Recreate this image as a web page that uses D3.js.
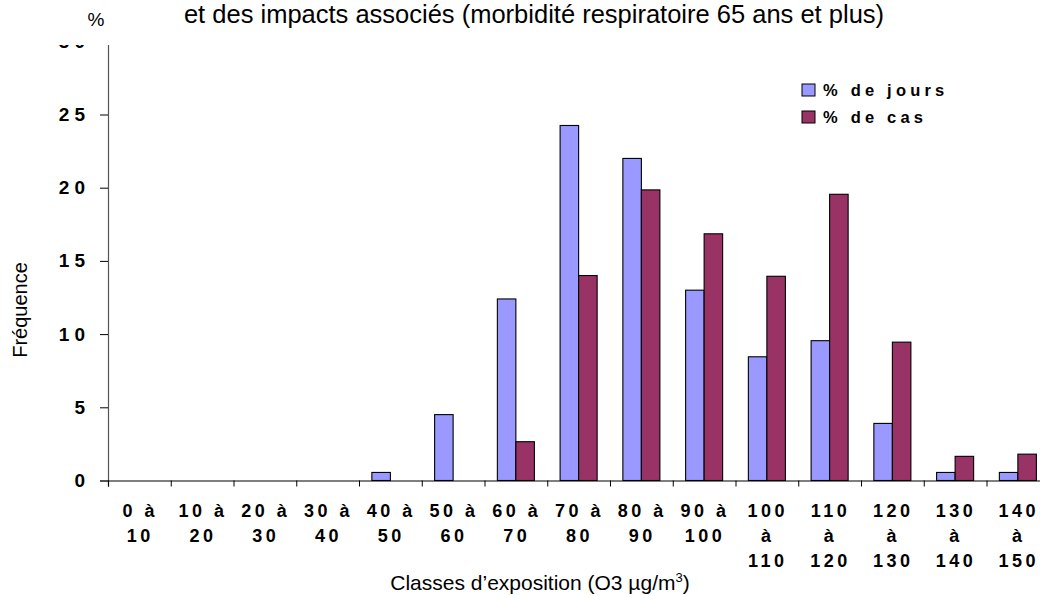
<!DOCTYPE html>
<html>
<head>
<meta charset="utf-8">
<script src="https://cdn.jsdelivr.net/npm/d3@7"></script>
<style>
  body { margin: 0; background: #fff; }
  svg { display: block; }
  text { font-family: "Liberation Sans", Arial, sans-serif; fill: #000; }
</style>
</head>
<body>
<svg id="chart" width="1040" height="595"></svg>
<script>
// Exposure classes (O3, µg/m3) and the two distributions in %
const categories = ["0 à 10", "10 à 20", "20 à 30", "30 à 40", "40 à 50", "50 à 60", "60 à 70",
  "70 à 80", "80 à 90", "90 à 100", "100 à 110", "110 à 120", "120 à 130", "130 à 140", "140 à 150"];
const categoryLines = [["0 à", "10"], ["10 à", "20"], ["20 à", "30"], ["30 à", "40"], ["40 à", "50"],
  ["50 à", "60"], ["60 à", "70"], ["70 à", "80"], ["80 à", "90"], ["90 à", "100"],
  ["100", "à", "110"], ["110", "à", "120"], ["120", "à", "130"], ["130", "à", "140"], ["140", "à", "150"]];
const pctJours = [0, 0, 0, 0, 0.55, 4.5, 12.4, 24.25, 22.0, 13.0, 8.45, 9.55, 3.9, 0.55, 0.55];
const pctCas   = [0, 0, 0, 0, 0, 0, 2.65, 14.0, 19.85, 16.85, 13.95, 19.55, 9.45, 1.65, 1.8];
const seriesNames = ["% de jours", "% de cas"];
const seriesColors = ["#9999FF", "#993366"];
const yTicks = [0, 5, 10, 15, 20, 25, 30];

const svg = d3.select("#chart");
const plotLeft = 108, plotRight = 1049.25, plotTop = 41.3, plotBottom = 480.5;

const x0 = d3.scaleBand().domain(categories).range([plotLeft, plotRight])
  .paddingInner(0.41).paddingOuter(0.205);
const x1 = d3.scaleBand().domain(seriesNames).range([0, x0.bandwidth()]);
const xEdges = d3.scaleLinear().domain([0, categories.length]).range([plotLeft, plotRight]);
const y = d3.scaleLinear().domain([0, 30]).range([plotBottom, plotTop]);

const rows = categories.map((c, i) => ({ cat: c, values: [pctJours[i], pctCas[i]] }));

// Bars
const groups = svg.append("g").selectAll("g").data(rows).join("g")
  .attr("transform", d => `translate(${x0(d.cat)},0)`);
groups.selectAll("rect")
  .data(d => d.values.map((v, k) => ({ name: seriesNames[k], v, k })).filter(e => e.v > 0))
  .join("rect")
  .attr("x", e => x1(e.name))
  .attr("y", e => y(e.v))
  .attr("width", x1.bandwidth())
  .attr("height", e => y(0) - y(e.v))
  .attr("fill", e => seriesColors[e.k])
  .attr("stroke", "#000")
  .attr("stroke-width", 1.1);

// Y axis
const yAxis = svg.append("g").attr("transform", `translate(${plotLeft},0)`)
  .call(d3.axisLeft(y).tickValues(yTicks).tickSize(8).tickPadding(10));
yAxis.select(".domain").attr("stroke", "#555").attr("stroke-width", 1.2);
yAxis.selectAll(".tick line").attr("stroke", "#000");
yAxis.selectAll(".tick text")
  .style("font-size", "19px").style("font-weight", "bold")
  .style("letter-spacing", "5px").attr("fill", "#000");

// X axis: ticks on class boundaries
const xAxis = svg.append("g").attr("transform", `translate(0,${plotBottom})`)
  .call(d3.axisBottom(xEdges).tickValues(d3.range(categories.length + 1)).tickSize(6).tickFormat(""));
xAxis.select(".domain").attr("stroke", "#000").attr("stroke-width", 1.2);
xAxis.selectAll(".tick line").attr("stroke", "#000");

// Category labels (multi-line)
const catLabels = svg.append("g").selectAll("text").data(categories).join("text")
  .attr("text-anchor", "middle")
  .style("font-size", "18px").style("font-weight", "bold").style("letter-spacing", "3.5px");
catLabels.each(function (c, i) {
  const t = d3.select(this);
  const cx = x0(c) + x0.bandwidth() / 2 + 1;
  categoryLines[i].forEach((ln, j) => {
    t.append("tspan").attr("x", cx).attr("y", 517 + j * 25).text(ln);
  });
});

// Cover above the top of the value axis
svg.append("rect").attr("x", 40).attr("y", 0).attr("width", 80).attr("height", 45).attr("fill", "#fff");

// Titles
svg.append("text").attr("x", 534).attr("y", 23).attr("text-anchor", "middle")
  .style("font-size", "25.5px").text("et des impacts associés (morbidité respiratoire 65 ans et plus)");
svg.append("text").attr("x", 96).attr("y", 26).attr("text-anchor", "middle")
  .style("font-size", "19px").text("%");
svg.append("text").attr("transform", "translate(27,310) rotate(-90)").attr("text-anchor", "middle")
  .style("font-size", "20px").text("Fréquence");
const xt = svg.append("text").attr("x", 540).attr("y", 590).attr("text-anchor", "middle")
  .style("font-size", "21px");
xt.append("tspan").text("Classes d’exposition (O3 µg/m");
xt.append("tspan").attr("dy", -8).style("font-size", "13px").text("3");
xt.append("tspan").attr("dy", 8).text(")");

// Legend
const legend = svg.append("g").attr("transform", "translate(802,84)");
seriesNames.forEach((n, k) => {
  const g = legend.append("g").attr("transform", `translate(0,${k * 27})`);
  g.append("rect").attr("width", 13).attr("height", 12)
    .attr("fill", seriesColors[k]).attr("stroke", "#000").attr("stroke-width", 1);
  g.append("text").attr("x", 21).attr("y", 12)
    .style("font-size", "16.5px").style("font-weight", "bold").style("letter-spacing", "4.2px").text(n);
});
</script>
</body>
</html>
